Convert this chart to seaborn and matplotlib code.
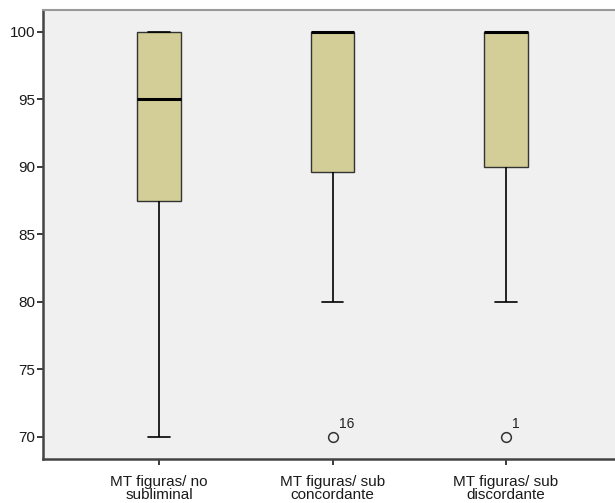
import matplotlib
matplotlib.use("Agg")
import matplotlib.pyplot as plt
import seaborn as sns
import pandas as pd

categories = ["MT figuras/ no\nsubliminal", "MT figuras/ sub\nconcordante", "MT figuras/ sub\ndiscordante"]
no_subliminal = [70, 75, 80, 80, 80, 90, 90, 90, 95, 95, 95, 100, 100, 100, 100, 100, 100, 100, 100, 100]
sub_concordante = [70, 80, 85, 88, 88.5, 90, 95, 95, 97.5, 100, 100, 100, 100, 100, 100, 100, 100, 100, 100, 100]
sub_discordante = [70, 80, 85, 90, 90, 90, 95, 95, 95, 100, 100, 100, 100, 100, 100, 100, 100, 100, 100, 100]
outlier_labels = [(1, 70, "16"), (2, 70, "1")]
yticks = [70, 75, 80, 85, 90, 95, 100]

rows = []
for cat, vals in zip(categories, [no_subliminal, sub_concordante, sub_discordante]):
    for v in vals:
        rows.append({"grupo": cat, "valor": v})
df = pd.DataFrame(rows)

sns.set_style("ticks")
plt.rcParams["font.family"] = ["Liberation Sans", "DejaVu Sans"]

fig = plt.figure(figsize=(6.15, 5.03), dpi=100)
ax = fig.add_axes([43 / 615, 44 / 503, 579 / 615, 449 / 503])
ax.set_facecolor("#F0F0F0")

sns.boxplot(
    data=df, x="grupo", y="valor", order=categories, ax=ax,
    width=0.25, color="#D3CE97", saturation=1,
    whis=1.5,
    boxprops=dict(facecolor="#D3CE97", edgecolor="#333333", linewidth=1.0),
    medianprops=dict(color="black", linewidth=2.2),
    whiskerprops=dict(color="black", linewidth=1.2),
    capprops=dict(color="black", linewidth=1.2),
    flierprops=dict(marker="o", markerfacecolor="none", markeredgecolor="#333333",
                    markersize=7, markeredgewidth=1.1),
)

for xi, yv, lab in outlier_labels:
    ax.annotate(lab, xy=(xi, yv), xytext=(4.5, 6.5), textcoords="offset points",
                fontsize=10, color="#222222", ha="left", va="baseline")

ax.set_xlim(-0.67, 2.67)
ax.set_ylim(68.35, 101.63)
ax.set_yticks(yticks)
ax.set_yticklabels([str(t) for t in yticks])
ax.set_xlabel("")
ax.set_ylabel("")
ax.tick_params(axis="both", labelsize=11, colors="#1a1a1a", length=4.5, width=1.2, pad=1)
ax.tick_params(axis="x", pad=7)
for lab in ax.get_xticklabels():
    lab.set_linespacing(0.88)

ax.spines["left"].set_color("#444444")
ax.spines["left"].set_linewidth(1.8)
ax.spines["bottom"].set_color("#444444")
ax.spines["bottom"].set_linewidth(1.8)
ax.spines["top"].set_visible(True)
ax.spines["top"].set_color("#999999")
ax.spines["top"].set_linewidth(1.5)
ax.spines["right"].set_visible(False)

fig.savefig("out.png", dpi=100, facecolor="white")
